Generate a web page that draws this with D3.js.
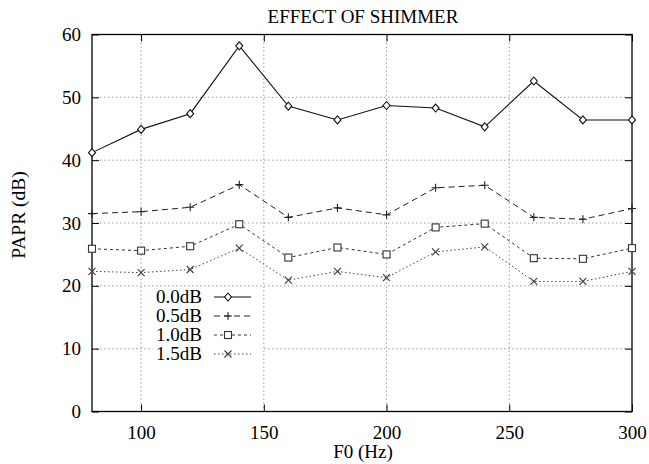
<!DOCTYPE html>
<html>
<head>
<meta charset="utf-8">
<script src="https://cdn.jsdelivr.net/npm/d3@7"></script>
<style>
  html, body { margin: 0; padding: 0; background: #fff; }
  svg text { font-family: "Liberation Serif", "Times New Roman", Times, "DejaVu Serif", serif !important; }
</style>
</head>
<body>
<svg id="chart" width="649" height="464"></svg>
<script>
const f0 = [80, 100, 120, 140, 160, 180, 200, 220, 240, 260, 280, 300];
const shim00 = [41.2, 44.9, 47.4, 58.2, 48.6, 46.4, 48.7, 48.3, 45.3, 52.6, 46.4, 46.4];
const shim05 = [31.5, 31.8, 32.5, 36.1, 30.9, 32.4, 31.3, 35.6, 36.0, 30.9, 30.6, 32.3];
const shim10 = [25.9, 25.6, 26.3, 29.8, 24.5, 26.1, 25.0, 29.3, 29.9, 24.4, 24.3, 26.0];
const shim15 = [22.3, 22.1, 22.6, 26.0, 20.9, 22.3, 21.3, 25.4, 26.2, 20.7, 20.7, 22.3];
const seriesNames = ["0.0dB", "0.5dB", "1.0dB", "1.5dB"];
const xTicks = [100, 150, 200, 250, 300];
const yTicks = [0, 10, 20, 30, 40, 50, 60];
const titleText = "EFFECT OF SHIMMER";
const xLabel = "F0 (Hz)";
const yLabel = "PAPR (dB)";

const FONT = "'Liberation Serif', 'Times New Roman', Times, serif";
const svg = d3.select("#chart");
const L = 92, R = 632, T = 34.5, B = 411.5;
const x = d3.scaleLinear().domain([80, 300]).range([L, R]);
const y = d3.scaleLinear().domain([0, 60]).range([B, T]);

const series = [
  { name: seriesNames[0], vals: shim00, dash: null, marker: "diamond", color: "#111", w: 1.1 },
  { name: seriesNames[1], vals: shim05, dash: "6,4", marker: "plus", color: "#222", w: 1 },
  { name: seriesNames[2], vals: shim10, dash: "3,3", marker: "square", color: "#333", w: 1 },
  { name: seriesNames[3], vals: shim15, dash: "1.5,2.5", marker: "cross", color: "#444", w: 1 }
];

// gridlines
const grid = svg.append("g").attr("stroke", "#888").attr("stroke-width", 0.8).attr("stroke-dasharray", "1.5,2.5");
xTicks.filter(t => t < 300).forEach(t => {
  grid.append("line").attr("x1", x(t)).attr("x2", x(t)).attr("y1", T).attr("y2", B);
});
yTicks.filter(t => t > 0 && t < 60).forEach(t => {
  grid.append("line").attr("x1", L).attr("x2", R).attr("y1", y(t)).attr("y2", y(t));
});

// axes with inward ticks
const fontSize = 19;
const xAxis = d3.axisBottom(x).tickValues(xTicks).tickSize(-7).tickPadding(14).tickSizeOuter(0);
svg.append("g").attr("transform", `translate(0,${B})`).call(xAxis);
const xTop = d3.axisTop(x).tickValues(xTicks).tickSize(-7).tickFormat("").tickSizeOuter(0);
svg.append("g").attr("transform", `translate(0,${T})`).call(xTop);
const yAxis = d3.axisLeft(y).tickValues(yTicks).tickSize(-7).tickPadding(11).tickSizeOuter(0);
svg.append("g").attr("transform", `translate(${L},0)`).call(yAxis);
const yRight = d3.axisRight(y).tickValues(yTicks).tickSize(-7).tickFormat("").tickSizeOuter(0);
svg.append("g").attr("transform", `translate(${R},0)`).call(yRight);
svg.selectAll(".domain").remove();
svg.selectAll("g").attr("font-family", FONT);
svg.selectAll(".tick line").attr("stroke", "#000").attr("stroke-width", 1);
svg.selectAll(".tick text").attr("font-family", FONT).attr("font-size", fontSize).attr("fill", "#000");

// frame
svg.append("rect").attr("x", L).attr("y", T).attr("width", R - L).attr("height", B - T)
  .attr("fill", "none").attr("stroke", "#000").attr("stroke-width", 1.3);

// markers
function drawMarker(g, type, cx, cy, color) {
  const s = 3.5;
  if (type === "diamond") {
    g.append("path").attr("d", `M${cx},${cy - s - 0.5}L${cx + s},${cy}L${cx},${cy + s + 0.5}L${cx - s},${cy}Z`)
      .attr("fill", "#fff").attr("stroke", color).attr("stroke-width", 1.1);
  } else if (type === "plus") {
    g.append("path").attr("d", `M${cx - 4},${cy}H${cx + 4}M${cx},${cy - 4}V${cy + 4}`)
      .attr("stroke", color).attr("stroke-width", 1.1).attr("fill", "none");
  } else if (type === "square") {
    g.append("rect").attr("x", cx - s).attr("y", cy - s).attr("width", 2 * s).attr("height", 2 * s)
      .attr("fill", "#fff").attr("stroke", color).attr("stroke-width", 1.1);
  } else if (type === "cross") {
    g.append("path").attr("d", `M${cx - s},${cy - s}L${cx + s},${cy + s}M${cx - s},${cy + s}L${cx + s},${cy - s}`)
      .attr("stroke", color).attr("stroke-width", 1.2).attr("fill", "none");
  }
}

// legend background
const legendRows = [297, 316, 335, 354];
svg.append("rect").attr("x", 150).attr("y", 288).attr("width", 111).attr("height", 76).attr("fill", "#fff");

// series lines
const line = d3.line().x((d, i) => x(f0[i])).y(d => y(d));
series.forEach(s => {
  const g = svg.append("g");
  g.append("path").datum(s.vals).attr("d", line).attr("fill", "none")
    .attr("stroke", s.color).attr("stroke-width", s.w)
    .attr("stroke-dasharray", s.dash);
  s.vals.forEach((v, i) => drawMarker(g, s.marker, x(f0[i]), y(v), s.color));
});

series.forEach((s, i) => {
  const cy = legendRows[i];
  const g = svg.append("g");
  g.append("text").attr("x", 202).attr("y", cy + 6).attr("text-anchor", "end")
    .attr("font-family", FONT).attr("font-size", fontSize).attr("fill", "#000").text(s.name);
  g.append("line").attr("x1", 214).attr("x2", 251).attr("y1", cy).attr("y2", cy)
    .attr("stroke", s.color).attr("stroke-width", s.w).attr("stroke-dasharray", s.dash);
  drawMarker(g, s.marker, 228, cy, s.color);
});

// title and labels
svg.append("text").attr("x", 363).attr("y", 23).attr("text-anchor", "middle")
  .attr("font-family", FONT).attr("font-size", 19).attr("fill", "#000").text(titleText);
svg.append("text").attr("x", 363).attr("y", 458).attr("text-anchor", "middle")
  .attr("font-family", FONT).attr("font-size", fontSize).attr("fill", "#000").text(xLabel);
svg.append("text").attr("transform", "translate(25,215) rotate(-90)").attr("text-anchor", "middle")
  .attr("font-family", FONT).attr("font-size", fontSize + 0.5).attr("fill", "#000").text(yLabel);
</script>
</body>
</html>
